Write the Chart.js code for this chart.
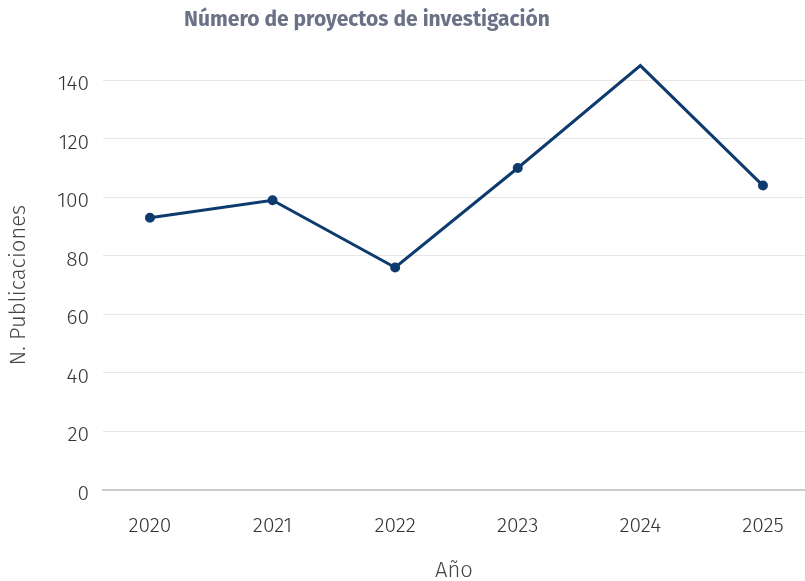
<!DOCTYPE html>
<html lang="es">
<head>
<meta charset="utf-8">
<title>Número de proyectos de investigación</title>
<script src="https://cdn.jsdelivr.net/npm/chart.js@4/dist/chart.umd.min.js"></script>
<style>
    html, body { margin: 0; padding: 0; background: #fff; }
    #chart-box { width: 805px; height: 581px; }
</style>
</head>
<body>
<div id="chart-box">
    <canvas id="proyectos-chart" width="805" height="581"></canvas>
</div>
<script>
// Proyectos por año
const anios = [2020, 2021, 2022, 2023, 2024, 2025];
const proyectos = [93, 99, 76, 110, 145, 104];
const yTicks = [0, 20, 40, 60, 80, 100, 120, 140];

const LINE = '#0d3b6e';
const FONT = "'Fira Sans', Roboto, sans-serif";

// The title sits left of the plot centre, so its box is narrowed after layout.
const shiftTitle = {
    id: 'shiftTitle',
    afterLayout(chart) {
        if (chart.titleBlock) {
            chart.titleBlock.left = 0;
            chart.titleBlock.right = 734;
        }
    },
};

new Chart(document.getElementById('proyectos-chart'), {
    type: 'line',
    data: {
        datasets: [{
            label: 'Proyectos',
            data: anios.map((a, i) => ({ x: a, y: proyectos[i] })),
            borderColor: LINE,
            backgroundColor: LINE,
            borderWidth: 3,
            pointRadius: 3.5,
            pointHoverRadius: 5,
            tension: 0,
            // 2024 rises above the 140 line
            clip: false,
        }],
    },
    options: {
        responsive: false,
        animation: false,
        // plot runs right up to the canvas edge
        layout: { padding: 0, autoPadding: false },
        plugins: {
            legend: { display: false },
            title: {
                display: true,
                text: 'Número de proyectos de investigación',
                color: '#6b7287',
                font: { family: FONT, size: 21, weight: 700 },
                padding: { top: 8, bottom: 47 },
            },
        },
        scales: {
            x: {
                type: 'linear',
                min: 2019.617,
                max: 2025.343,
                grid: { display: false, drawTicks: false },
                border: { display: true, color: '#cdcdcd', width: 2 },
                ticks: {
                    stepSize: 1,
                    includeBounds: false,
                    padding: 24,
                    color: '#333',
                    font: { family: FONT, size: 21, weight: 300 },
                    callback: (v) => String(v),
                },
                title: {
                    display: true,
                    text: 'Año',
                    color: '#444',
                    font: { family: FONT, size: 22, weight: 300 },
                    padding: { top: 0, bottom: -3 },
                },
                afterFit(scale) {
                    scale.height = 91;
                    scale.paddingLeft = 0;
                    scale.paddingRight = 0;
                },
            },
            y: {
                min: yTicks[0],
                max: yTicks[yTicks.length - 1],
                grid: { color: '#e6e6e6', lineWidth: 1, drawTicks: false },
                border: { display: false },
                afterBuildTicks(scale) { scale.ticks = yTicks.map((v) => ({ value: v })); },
                ticks: {
                    padding: 14,
                    labelOffset: 4,
                    color: '#333',
                    font: { family: FONT, size: 21, weight: 300 },
                },
                title: {
                    display: true,
                    text: 'N. Publicaciones',
                    color: '#444',
                    font: { family: FONT, size: 22, weight: 300 },
                    padding: { top: 6, bottom: 0 },
                },
                afterFit(scale) { scale.width = 103; },
            },
        },
    },
    plugins: [shiftTitle],
});
</script>
</body>
</html>
